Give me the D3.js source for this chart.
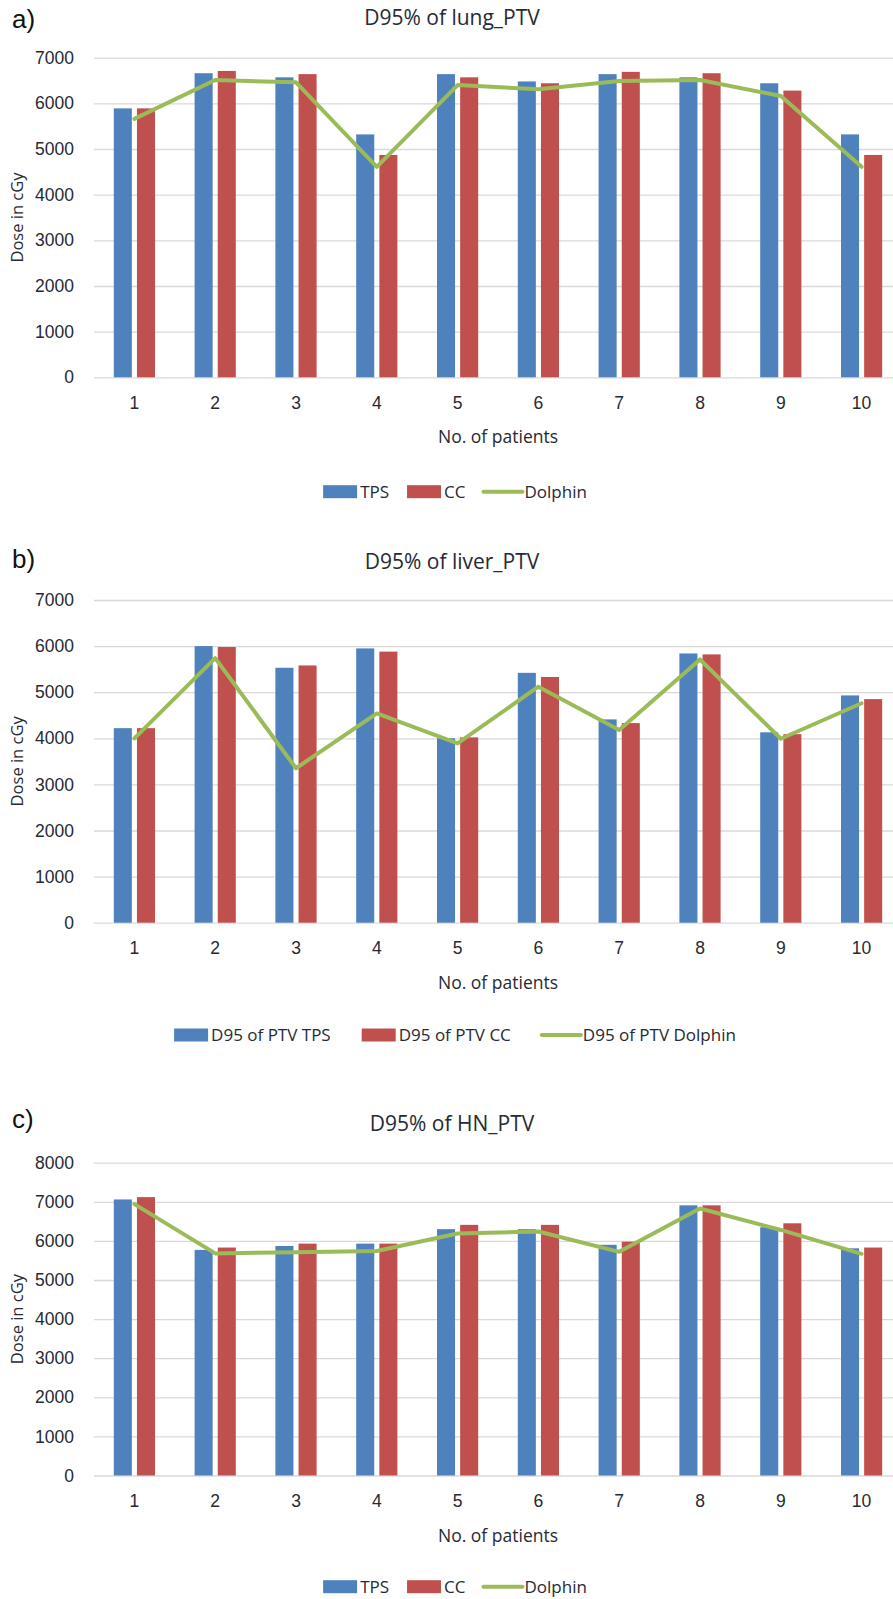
<!DOCTYPE html>
<html>
<head>
<meta charset="utf-8">
<script src="https://cdn.jsdelivr.net/npm/d3@7"></script>
<style>
  body { margin: 0; background: #fff; }
  svg { display: block; font-family: "Open Sans", sans-serif; }
</style>
</head>
<body>
<div id="chart"></div>
<script>
// patients on x axis
const patients = ["1", "2", "3", "4", "5", "6", "7", "8", "9", "10"];

// a) lung
const lungTPS = [5890, 6660, 6570, 5320, 6640, 6480, 6640, 6570, 6440, 5320];
const lungCC = [5890, 6710, 6640, 4870, 6570, 6440, 6690, 6660, 6280, 4870];
const lungDolphin = [5660, 6510, 6460, 4610, 6400, 6310, 6490, 6510, 6160, 4610];

// b) liver
const liverTPS = [4220, 6000, 5530, 5950, 4000, 5420, 4410, 5840, 4130, 4930];
const liverCC = [4220, 5980, 5580, 5880, 4020, 5330, 4330, 5820, 4090, 4850];
const liverDolphin = [4000, 5740, 3350, 4540, 3890, 5120, 4180, 5710, 3990, 4760];

// c) head & neck
const hnTPS = [7060, 5770, 5870, 5930, 6300, 6300, 5900, 6910, 6350, 5810];
const hnCC = [7120, 5830, 5930, 5930, 6410, 6410, 5980, 6910, 6450, 5830];
const hnDolphin = [6940, 5680, 5710, 5740, 6190, 6240, 5720, 6830, 6280, 5670];

const legendShort = ["TPS", "CC", "Dolphin"];
const legendLong = ["D95 of PTV TPS", "D95 of PTV CC", "D95 of PTV Dolphin"];

const width = 893;
const height = 1599;
const blue = "#4f81bd";
const red = "#c0504d";
const green = "#9bbb59";
const grid = "#d9d9d9";
const textColor = "#262a33";

// layout for each panel (pixel positions)
const panels = [
  { letter: "a)", title: "D95% of lung_PTV", tps: lungTPS, cc: lungCC, dol: lungDolphin,
    yMax: 7000, top: 57.7, bottom: 377.3, titleY: 25, letterY: 28, legendY: 491.7,
    legend: legendShort, legendGap: 18 },
  { letter: "b)", title: "D95% of liver_PTV", tps: liverTPS, cc: liverCC, dol: liverDolphin,
    yMax: 7000, top: 600, bottom: 922.7, titleY: 569, letterY: 568, legendY: 1035,
    legend: legendLong, legendGap: 31 },
  { letter: "c)", title: "D95% of HN_PTV", tps: hnTPS, cc: hnCC, dol: hnDolphin,
    yMax: 8000, top: 1162.7, bottom: 1475.5, titleY: 1131, letterY: 1128, legendY: 1586.7,
    legend: legendShort, legendGap: 18 },
];

const plotLeft = 94;
const plotRight = 902;

const svg = d3.select("#chart")
  .append("svg")
  .attr("width", width)
  .attr("height", height);

svg.append("rect").attr("width", width).attr("height", height).attr("fill", "#fff");

const x0 = d3.scaleBand()
  .domain(patients)
  .range([plotLeft, plotRight])
  .paddingInner(0.49)
  .paddingOuter(0.245);

const x1 = d3.scaleBand()
  .domain(["tps", "cc"])
  .range([0, x0.bandwidth()])
  .paddingInner(0.22);

panels.forEach((p) => {
  const y = d3.scaleLinear().domain([0, p.yMax]).range([p.bottom, p.top]);
  const g = svg.append("g");

  // gridlines + y labels
  const yAxis = g.append("g")
    .attr("transform", `translate(${plotLeft},0)`)
    .call(
      d3.axisLeft(y)
        .ticks(p.yMax / 1000)
        .tickSize(-(plotRight - plotLeft))
        .tickPadding(20)
        .tickFormat(d3.format("d"))
    );
  yAxis.select(".domain").remove();
  yAxis.selectAll(".tick line").attr("stroke", grid).attr("stroke-width", 1.3);
  yAxis.selectAll(".tick text")
    .attr("fill", textColor)
    .style("font-size", "17.5px");

  // x labels
  const xAxis = g.append("g")
    .attr("transform", `translate(0,${p.bottom})`)
    .call(d3.axisBottom(x0).tickSize(0).tickPadding(19));
  xAxis.select(".domain").remove();
  xAxis.selectAll(".tick text")
    .attr("fill", textColor)
    .style("font-size", "17.5px");

  // bars
  const rows = patients.map((k, i) => ({ k, tps: p.tps[i], cc: p.cc[i] }));
  g.append("g")
    .selectAll("g")
    .data(rows)
    .join("g")
    .attr("transform", (d) => `translate(${x0(d.k)},0)`)
    .selectAll("rect")
    .data((d) => [
      { key: "tps", v: d.tps },
      { key: "cc", v: d.cc },
    ])
    .join("rect")
    .attr("x", (d) => x1(d.key))
    .attr("width", x1.bandwidth())
    .attr("y", (d) => y(d.v))
    .attr("height", (d) => y(0) - y(d.v))
    .attr("fill", (d) => (d.key === "tps" ? blue : red));

  // Dolphin line
  const line = d3.line()
    .x((d, i) => x0(patients[i]) + x0.bandwidth() / 2)
    .y((d) => y(d));
  g.append("path")
    .datum(p.dol)
    .attr("fill", "none")
    .attr("stroke", green)
    .attr("stroke-width", 4)
    .attr("stroke-linejoin", "round")
    .attr("stroke-linecap", "round")
    .attr("d", line);

  // titles
  g.append("text")
    .attr("x", 452)
    .attr("y", p.titleY)
    .attr("text-anchor", "middle")
    .attr("fill", textColor)
    .style("font-size", "21px")
    .text(p.title);

  g.append("text")
    .attr("x", 12)
    .attr("y", p.letterY)
    .attr("fill", "#111")
    .style("font-family", "'Liberation Sans', Arial, sans-serif")
    .style("font-size", "26px")
    .text(p.letter);

  g.append("text")
    .attr("transform", `translate(23,${(p.top + p.bottom) / 2}) rotate(-90)`)
    .attr("text-anchor", "middle")
    .attr("fill", textColor)
    .style("font-size", "16.5px")
    .text("Dose in cGy");

  g.append("text")
    .attr("x", (plotLeft + plotRight) / 2)
    .attr("y", p.bottom + 60)
    .attr("dy", "0.35em")
    .attr("text-anchor", "middle")
    .attr("fill", textColor)
    .style("font-size", "17.5px")
    .text("No. of patients");

  // legend
  const leg = g.append("g").attr("transform", `translate(0,${p.legendY})`);
  const colors = [blue, red, green];
  let cx = 0;
  const items = [];
  p.legend.forEach((name, i) => {
    const item = leg.append("g");
    if (i < 2) {
      item.append("rect")
        .attr("x", 0).attr("y", -6.5)
        .attr("width", 34).attr("height", 13)
        .attr("fill", colors[i]);
    } else {
      item.append("line")
        .attr("x1", 0).attr("x2", 39)
        .attr("stroke", green).attr("stroke-width", 4)
        .attr("stroke-linecap", "round");
    }
    const t = item.append("text")
      .attr("x", i < 2 ? 37 : 41)
      .attr("dy", "0.35em")
      .attr("fill", textColor)
      .style("font-size", "17px")
      .text(name);
    const w = (i < 2 ? 37 : 41) + t.node().getComputedTextLength();
    items.push({ item, x: cx });
    cx += w + p.legendGap;
  });
  const total = cx - p.legendGap;
  const start = 455 - total / 2;
  items.forEach((d) => d.item.attr("transform", `translate(${start + d.x},0)`));
});
</script>
</body>
</html>
